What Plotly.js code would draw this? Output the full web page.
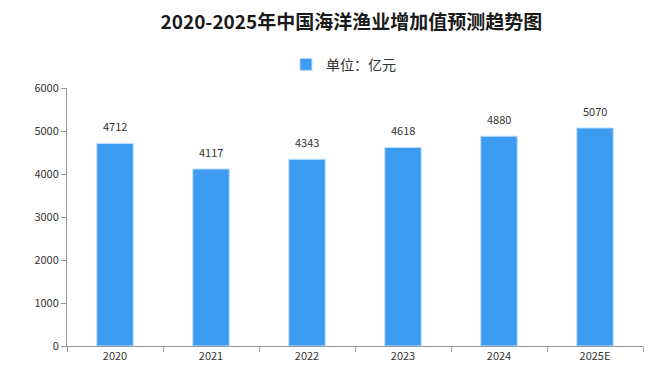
<!DOCTYPE html>
<html>
<head>
<meta charset="utf-8">
<script src="https://cdn.plot.ly/plotly-3.0.1.min.js"></script>
<style>html,body{margin:0;padding:0;background:#fff;}#chart{width:663px;height:381px;}</style>
</head>
<body>
<div id="chart"></div>
<script>
var years = ["2020", "2021", "2022", "2023", "2024", "2025E"];
var values = [4712, 4117, 4343, 4618, 4880, 5070];
var seriesName = "单位：亿元";
var chartTitle = "2020-2025年中国海洋渔业增加值预测趋势图";

var font = "'Noto Sans CJK SC', 'DejaVu Sans', sans-serif";
var data = [{
  type: "bar",
  x: years,
  y: values,
  name: seriesName,
  marker: {color: "#3d9bf2", line: {color: "#bfe0ff", width: 1}},
  showlegend: true
}];
var annotations = years.map(function (yr, i) {
  return {x: i, y: values[i], xref: "x", yref: "y", text: String(values[i]),
          showarrow: false, yanchor: "bottom", yshift: 7,
          font: {family: font, size: 11, color: "#333"}};
});
var layout = {
  width: 663, height: 381,
  margin: {l: 67, r: 20, t: 88, b: 35},
  paper_bgcolor: "#fff", plot_bgcolor: "#fff",
  title: {text: "<b>" + chartTitle + "</b>", x: 0.53, xanchor: "center", y: 0.942, yanchor: "middle",
          font: {family: font, size: 19, color: "#1a1a1a"}},
  showlegend: true,
  legend: {orientation: "h", x: 0.48, xanchor: "center", y: 1.09, yanchor: "middle",
           font: {family: font, size: 14, color: "#333"}, itemwidth: 30},
  annotations: annotations,
  bargap: 0.62,
  xaxis: {type: "category", range: [-0.5, years.length - 0.5], autorange: false,
          showgrid: false, showline: true, linecolor: "#999", linewidth: 1,
          ticks: "outside", tickson: "boundaries", ticklen: 5, tickcolor: "#999",
          tickfont: {family: font, size: 11, color: "#333"}},
  yaxis: {range: [0, 6000], dtick: 1000, showgrid: false, showline: true, linecolor: "#999", linewidth: 1,
          ticks: "outside", ticklen: 5, tickcolor: "#999", zeroline: false,
          tickfont: {family: font, size: 11, color: "#333"}}
};
Plotly.newPlot("chart", data, layout, {displayModeBar: false, staticPlot: true});
</script>
</body>
</html>
